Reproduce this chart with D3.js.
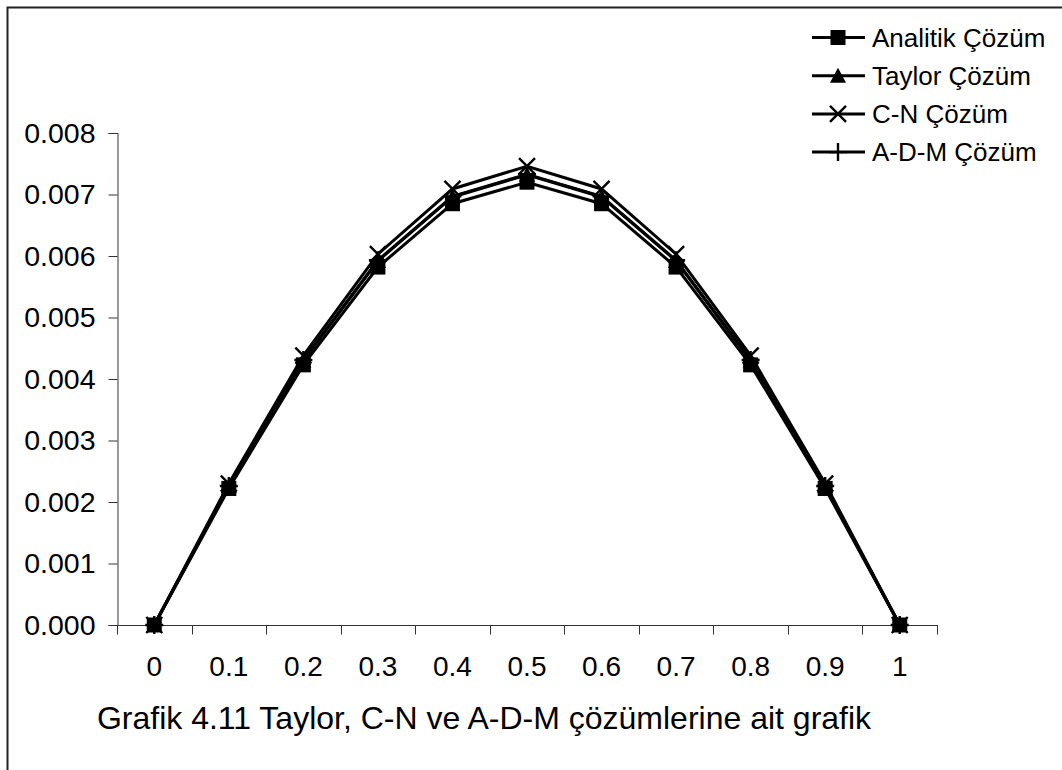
<!DOCTYPE html>
<html>
<head>
<meta charset="utf-8">
<script src="https://cdn.jsdelivr.net/npm/d3@7"></script>
<style>
  html, body { margin: 0; padding: 0; background: #fff; }
  svg { display: block; font-family: "Liberation Sans", Arial, sans-serif; }
</style>
</head>
<body>
<svg id="chart" width="1062" height="770"></svg>
<script>
// x categories (position along the bar)
const categories = ["0", "0.1", "0.2", "0.3", "0.4", "0.5", "0.6", "0.7", "0.8", "0.9", "1"];

// solution values at each position
const analitik = [0, 0.00222, 0.00423, 0.00582, 0.00685, 0.00720, 0.00685, 0.00582, 0.00423, 0.00222, 0];
const taylor   = [0, 0.00226, 0.00430, 0.00592, 0.00696, 0.00732, 0.00696, 0.00592, 0.00430, 0.00226, 0];
const cn       = [0, 0.00230, 0.00438, 0.00603, 0.00709, 0.00746, 0.00709, 0.00603, 0.00438, 0.00230, 0];
const adm      = [0, 0.00226, 0.00431, 0.00593, 0.00697, 0.00733, 0.00697, 0.00593, 0.00431, 0.00226, 0];

const seriesNames = ["Analitik Çözüm", "Taylor Çözüm", "C-N Çözüm", "A-D-M Çözüm"];
const seriesValues = [analitik, taylor, cn, adm];
const markerTypes = ["square", "triangle", "cross", "plus"];

const yTicks = [0, 0.001, 0.002, 0.003, 0.004, 0.005, 0.006, 0.007, 0.008];
const caption = "Grafik 4.11 Taylor, C-N ve A-D-M çözümlerine ait grafik";

const svg = d3.select("#chart");

// outer frame
svg.append("rect")
  .attr("x", 7.5).attr("y", 7.5)
  .attr("width", 1100).attr("height", 800)
  .attr("fill", "none").attr("stroke", "#222").attr("stroke-width", 2);

const x = d3.scaleBand().domain(categories).range([117, 937]).padding(0);
const y = d3.scaleLinear().domain([0, 0.008]).range([625, 133]);

// y axis
const yAxis = svg.append("g")
  .attr("transform", "translate(117.5,0)")
  .call(d3.axisLeft(y).tickValues(yTicks).tickFormat(d3.format(".3f")).tickSize(9).tickPadding(13));
yAxis.select(".domain").attr("stroke", "#333");
yAxis.selectAll(".tick line").attr("stroke", "#333");
yAxis.selectAll(".tick text").attr("font-size", 28.5).attr("fill", "#000")
  .attr("font-family", "Liberation Sans, Arial, sans-serif");

// x axis: labels at category centres, tick marks at category boundaries
const xAxis = svg.append("g")
  .attr("transform", `translate(0,${y(0) + 0.5})`)
  .call(d3.axisBottom(x).tickSize(0).tickPadding(31));
xAxis.select(".domain").remove();
xAxis.selectAll(".tick text").attr("font-size", 28).attr("fill", "#000")
  .attr("font-family", "Liberation Sans, Arial, sans-serif");

const xLine = svg.append("g").attr("stroke", "#333").attr("stroke-width", 1);
xLine.append("line")
  .attr("x1", x.range()[0]).attr("x2", x.range()[1])
  .attr("y1", y(0) + 0.5).attr("y2", y(0) + 0.5);
const boundaries = categories.map(c => x(c)).concat([x.range()[1]]);
xLine.selectAll("line.tk").data(boundaries).join("line").attr("class", "tk")
  .attr("x1", d => Math.round(d) + 0.5).attr("x2", d => Math.round(d) + 0.5)
  .attr("y1", y(0)).attr("y2", y(0) + 9.5);

const cx = c => x(c) + x.bandwidth() / 2;

function drawMarker(g, type, px, py) {
  if (type === "square") {
    g.append("rect").attr("x", px - 7.5).attr("y", py - 7.5).attr("width", 15).attr("height", 15).attr("fill", "#000");
  } else if (type === "triangle") {
    g.append("path").attr("d", `M${px},${py - 8}L${px + 8},${py + 7}L${px - 8},${py + 7}Z`).attr("fill", "#000");
  } else if (type === "cross") {
    g.append("path").attr("d", `M${px - 8},${py - 8}L${px + 8},${py + 8}M${px - 8},${py + 8}L${px + 8},${py - 8}`)
      .attr("stroke", "#000").attr("stroke-width", 2.4).attr("fill", "none");
  } else {
    g.append("path").attr("d", `M${px - 9},${py}L${px + 9},${py}M${px},${py - 9}L${px},${py + 9}`)
      .attr("stroke", "#000").attr("stroke-width", 2.4).attr("fill", "none");
  }
}

const line = d3.line().x((d, i) => cx(categories[i])).y(d => y(d));

seriesValues.forEach((vals, si) => {
  const g = svg.append("g");
  g.append("path").datum(vals).attr("d", line)
    .attr("fill", "none").attr("stroke", "#000").attr("stroke-width", 3).attr("stroke-linejoin", "miter");
  vals.forEach((v, i) => drawMarker(g, markerTypes[si], cx(categories[i]), y(v)));
});

// legend
const legend = svg.append("g");
seriesNames.forEach((name, i) => {
  const ly = 37.5 + i * 38.2;
  const g = legend.append("g");
  g.append("line").attr("x1", 812).attr("x2", 865).attr("y1", ly).attr("y2", ly)
    .attr("stroke", "#000").attr("stroke-width", 3);
  drawMarker(g, markerTypes[i], 838, ly);
  g.append("text").attr("x", 872).attr("y", ly).attr("dy", "0.35em")
    .attr("font-size", 26).attr("fill", "#000").text(name);
});

// caption below the axis
svg.append("text").attr("x", 484).attr("y", 718).attr("dy", "0.35em")
  .attr("text-anchor", "middle").attr("font-size", 32).attr("fill", "#000").text(caption);
</script>
</body>
</html>
